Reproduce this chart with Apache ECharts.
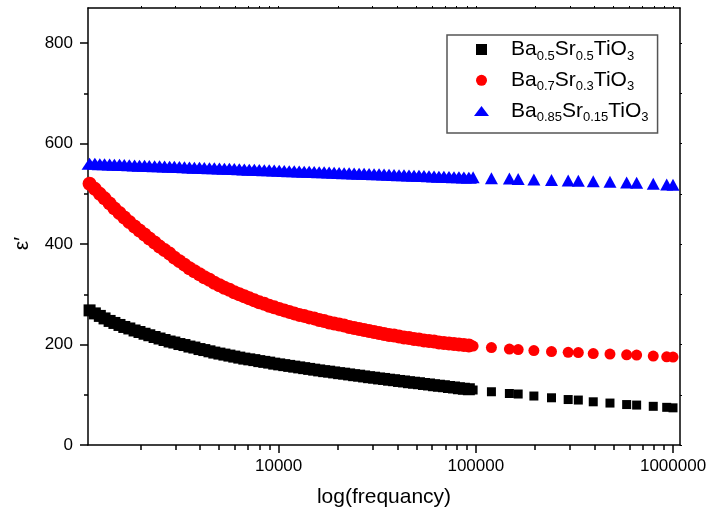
<!DOCTYPE html>
<html>
<head>
<meta charset="utf-8">
<script src="https://cdn.jsdelivr.net/npm/echarts@6.0.0/dist/echarts.min.js"></script>
<style>
  html, body { margin: 0; padding: 0; background: #fff; }
  #chart { width: 708px; height: 517px; }
</style>
</head>
<body>
<div id="chart"></div>
<script>
// frequency (Hz) of the measured points, read off the log axis
// first sweep: closely spaced points (look like a solid band)
var freqDense = [1100, 1170, 1240, 1310, 1390, 1470, 1560, 1650, 1750, 1860, 1970, 2090, 2210, 2350, 2490,
  2640, 2800, 2960, 3140, 3330, 3530, 3740, 3970, 4200, 4460, 4720, 5010, 5310, 5630, 5960, 6320,
  6700, 7100, 7530, 7980, 8460, 8960, 9500, 10070, 10680, 11320, 12000, 12720, 13480, 14290, 15150,
  16060, 17020, 18040, 19120, 20270, 21490, 22780, 24150, 25600, 27130, 28760, 30490, 32320, 34260,
  36310, 38490, 40800, 43250, 45840, 48600, 51500, 54600, 57900, 61400, 65000, 68900, 73100, 77500,
  82100, 87000, 92200];
// high-frequency points, drawn as separate markers
var freqSparse = [96900, 120000, 148000, 164000, 197000, 242000, 294000, 331000, 394000, 479000,
  582000, 654000, 794000, 929000, 1000000];
var freq = freqDense.concat(freqSparse);

// Ba0.5Sr0.5TiO3
var eps50 = [268, 262, 257, 252, 247, 243, 239, 235, 232, 228, 225, 221.5, 218.5, 215, 212, 209, 206,
  204, 201, 199, 196, 194, 191, 189, 186.5, 184, 182, 180, 178, 176, 174, 172, 170.5, 169, 167, 165.5,
  164, 162, 160.5, 159, 157.5, 156, 154.5, 153, 151.5, 150, 148.5, 147, 146, 144.5, 143, 142, 140.5,
  139, 138, 136.5, 135, 134, 132.5, 131.5, 130, 129, 127.5, 126.5, 125, 124, 123, 121.5, 120.5, 119,
  118, 117, 115.5, 114.5, 113, 112, 111,
  109.5, 106, 102.5, 101.5, 97.5, 94, 90.5, 89.5, 86, 83.5, 80.5, 79.5, 77, 75, 74];

// Ba0.7Sr0.3TiO3
var eps70 = [520, 510, 500, 491, 481, 471, 462, 453, 444, 435, 427, 419, 411, 403, 395, 388, 381, 373,
  366, 359, 352, 346, 340, 334, 329, 323, 318, 313, 309, 304, 300, 296, 292, 288, 284, 281, 277, 274,
  271, 268, 265, 262, 259, 257, 254, 252, 249, 247, 244, 242, 240, 238, 235, 233, 231, 229, 227, 225,
  223, 221, 219, 218, 216, 214, 213, 211, 210, 208, 207, 206, 204, 203, 202, 201, 200, 199, 198,
  197, 194, 191, 190, 188, 186, 184.5, 184, 182, 181, 179.5, 179, 177, 175.5, 175];

// Ba0.85Sr0.15TiO3
var eps85 = [560, 560, 559, 559, 558.5, 558, 558, 557.5, 557, 556.5, 556, 556, 555.5, 555, 555, 554.5,
  554, 554, 553.5, 553, 552.5, 552, 552, 551.5, 551, 551, 550.5, 550, 550, 549.5, 549, 548.5, 548, 548,
  547.5, 547, 547, 546.5, 546, 545.5, 545, 545, 544.5, 544, 544, 543.5, 543, 543, 542.5, 542, 541.5,
  541, 541, 540.5, 540, 540, 539.5, 539, 539, 538.5, 538, 537.5, 537, 537, 536.5, 536, 536, 535.5, 535,
  534.5, 534, 534, 533.5, 533, 533, 532.5, 532,
  533, 531, 530.5, 529.5, 528.5, 527.5, 526.5, 526, 525, 524, 522.5, 522, 520, 518.5, 518];

var seriesNames = ['Ba0.5Sr0.5TiO3', 'Ba0.7Sr0.3TiO3', 'Ba0.85Sr0.15TiO3'];
// formula pieces: element, subscript, element, subscript, ...
var formulaParts = [
  ['Ba', '0.5', 'Sr', '0.5', 'TiO', '3'],
  ['Ba', '0.7', 'Sr', '0.3', 'TiO', '3'],
  ['Ba', '0.85', 'Sr', '0.15', 'TiO', '3']
];

var xMajor = [10000, 100000, 1000000];
var xMinor = [2000, 3000, 4000, 5000, 6000, 7000, 8000, 9000,
  20000, 30000, 40000, 50000, 60000, 70000, 80000, 90000,
  200000, 300000, 400000, 500000, 600000, 700000, 800000, 900000];
var yMajor = [0, 200, 400, 600, 800];
var yMinor = [100, 300, 500, 700];

var font = '"Liberation Sans", Arial, sans-serif';
var lg = function (v) { return Math.log10(v); };
var xMin = lg(1080), xMax = lg(1085000);
var yMin = 0, yMax = 870;
var nDense = freqDense.length;

var chart = echarts.init(document.getElementById('chart'), null, { renderer: 'canvas' });

var richName = {};
seriesNames.forEach(function (n, i) {
  var p = formulaParts[i];
  richName[n] = '{f|' + p[0] + '}{s|' + p[1] + '}{m|' + p[2] + '}{s|' + p[3] + '}{m|' + p[4] + '}{s|' + p[5] + '}';
});

function pts(vals) {
  return freq.map(function (f, i) { return [lg(f), vals[i]]; });
}

// dense sweep overlaps into a thick band, so its markers are a bit larger
function sizer(dense, sparse) {
  return function (val, params) { return params.dataIndex < nDense ? dense : sparse; };
}

var frameLine = { show: true, onZero: false, lineStyle: { color: '#000', width: 1.5 } };
var tickLine = { color: '#000', width: 1.5 };

var option = {
  animation: false,
  backgroundColor: '#fff',
  grid: { left: 88, right: 28, top: 8, bottom: 72, outerBoundsMode: 'none' },
  legend: {
    orient: 'vertical',
    left: 447,
    top: 35,
    padding: [4, 9, 9, 27],
    itemWidth: 15,
    itemHeight: 11,
    itemGap: 7.3,
    borderColor: '#555',
    borderWidth: 1.5,
    data: [
      { name: seriesNames[0], icon: 'path://M0,0L10,0L10,10L0,10Z' },
      { name: seriesNames[1], icon: 'circle' },
      { name: seriesNames[2], icon: 'path://M7.5,0L15,10L0,10Z' }
    ],
    formatter: function (name) { return richName[name]; },
    textStyle: {
      rich: {
        f: { fontSize: 21, lineHeight: 26, color: '#000', fontFamily: font, padding: [0, 0, 0, 17] },
        m: { fontSize: 21, lineHeight: 26, color: '#000', fontFamily: font },
        s: { fontSize: 13, lineHeight: 6, verticalAlign: 'bottom', color: '#000', fontFamily: font }
      }
    }
  },
  xAxis: [
    {
      type: 'value', position: 'bottom', min: xMin, max: xMax,
      axisLine: frameLine, splitLine: { show: false },
      axisTick: { customValues: xMajor.map(lg), length: 8, lineStyle: tickLine },
      axisLabel: {
        customValues: xMajor.map(lg), margin: 13, fontSize: 17, color: '#000', fontFamily: font,
        formatter: function (v) { return String(Math.round(Math.pow(10, v))); }
      },
      name: 'log(frequancy)', nameLocation: 'middle', nameGap: 42,
      nameTextStyle: { fontSize: 21, color: '#000', fontFamily: font }
    },
    {
      type: 'value', position: 'bottom', min: xMin, max: xMax,
      axisLine: { show: false, onZero: false }, splitLine: { show: false },
      axisTick: { customValues: xMinor.map(lg), length: 5, lineStyle: tickLine },
      axisLabel: { show: false }
    },
    {
      type: 'value', position: 'top', min: xMin, max: xMax,
      axisLine: frameLine, splitLine: { show: false },
      axisTick: { customValues: xMajor.concat(xMinor).map(lg), length: 2, lineStyle: { color: '#000', width: 1 } },
      axisLabel: { show: false }
    }
  ],
  yAxis: [
    {
      type: 'value', position: 'left', min: yMin, max: yMax,
      axisLine: frameLine, splitLine: { show: false },
      axisTick: { customValues: yMajor, length: 8, lineStyle: tickLine },
      axisLabel: { customValues: yMajor, margin: 15, fontSize: 17, color: '#000', fontFamily: font },
      name: 'ε′', nameLocation: 'middle', nameGap: 55,
      nameTextStyle: { fontSize: 21, color: '#000', fontFamily: font, padding: [0, 34, 0, 0] }
    },
    {
      type: 'value', position: 'left', min: yMin, max: yMax,
      axisLine: { show: false, onZero: false }, splitLine: { show: false },
      axisTick: { customValues: yMinor, length: 4, lineStyle: tickLine },
      axisLabel: { show: false }
    },
    {
      type: 'value', position: 'right', min: yMin, max: yMax,
      axisLine: frameLine, splitLine: { show: false },
      axisTick: { customValues: yMajor.concat(yMinor), length: 2, lineStyle: { color: '#000', width: 1 } },
      axisLabel: { show: false }
    }
  ],
  series: [
    {
      name: seriesNames[0], type: 'scatter', xAxisIndex: 0, yAxisIndex: 0,
      symbol: 'rect', symbolSize: sizer(12, 9), itemStyle: { color: '#000000', opacity: 1 },
      data: pts(eps50)
    },
    {
      name: seriesNames[1], type: 'scatter', xAxisIndex: 0, yAxisIndex: 0,
      symbol: 'circle', symbolSize: sizer(14, 11), itemStyle: { color: '#ff0000', opacity: 1 },
      data: pts(eps70)
    },
    {
      name: seriesNames[2], type: 'scatter', xAxisIndex: 0, yAxisIndex: 0,
      symbol: 'triangle', symbolSize: sizer([16, 12], [13, 12]), itemStyle: { color: '#0000ff', opacity: 1 },
      data: pts(eps85)
    }
  ]
};

chart.setOption(option);
</script>
</body>
</html>
